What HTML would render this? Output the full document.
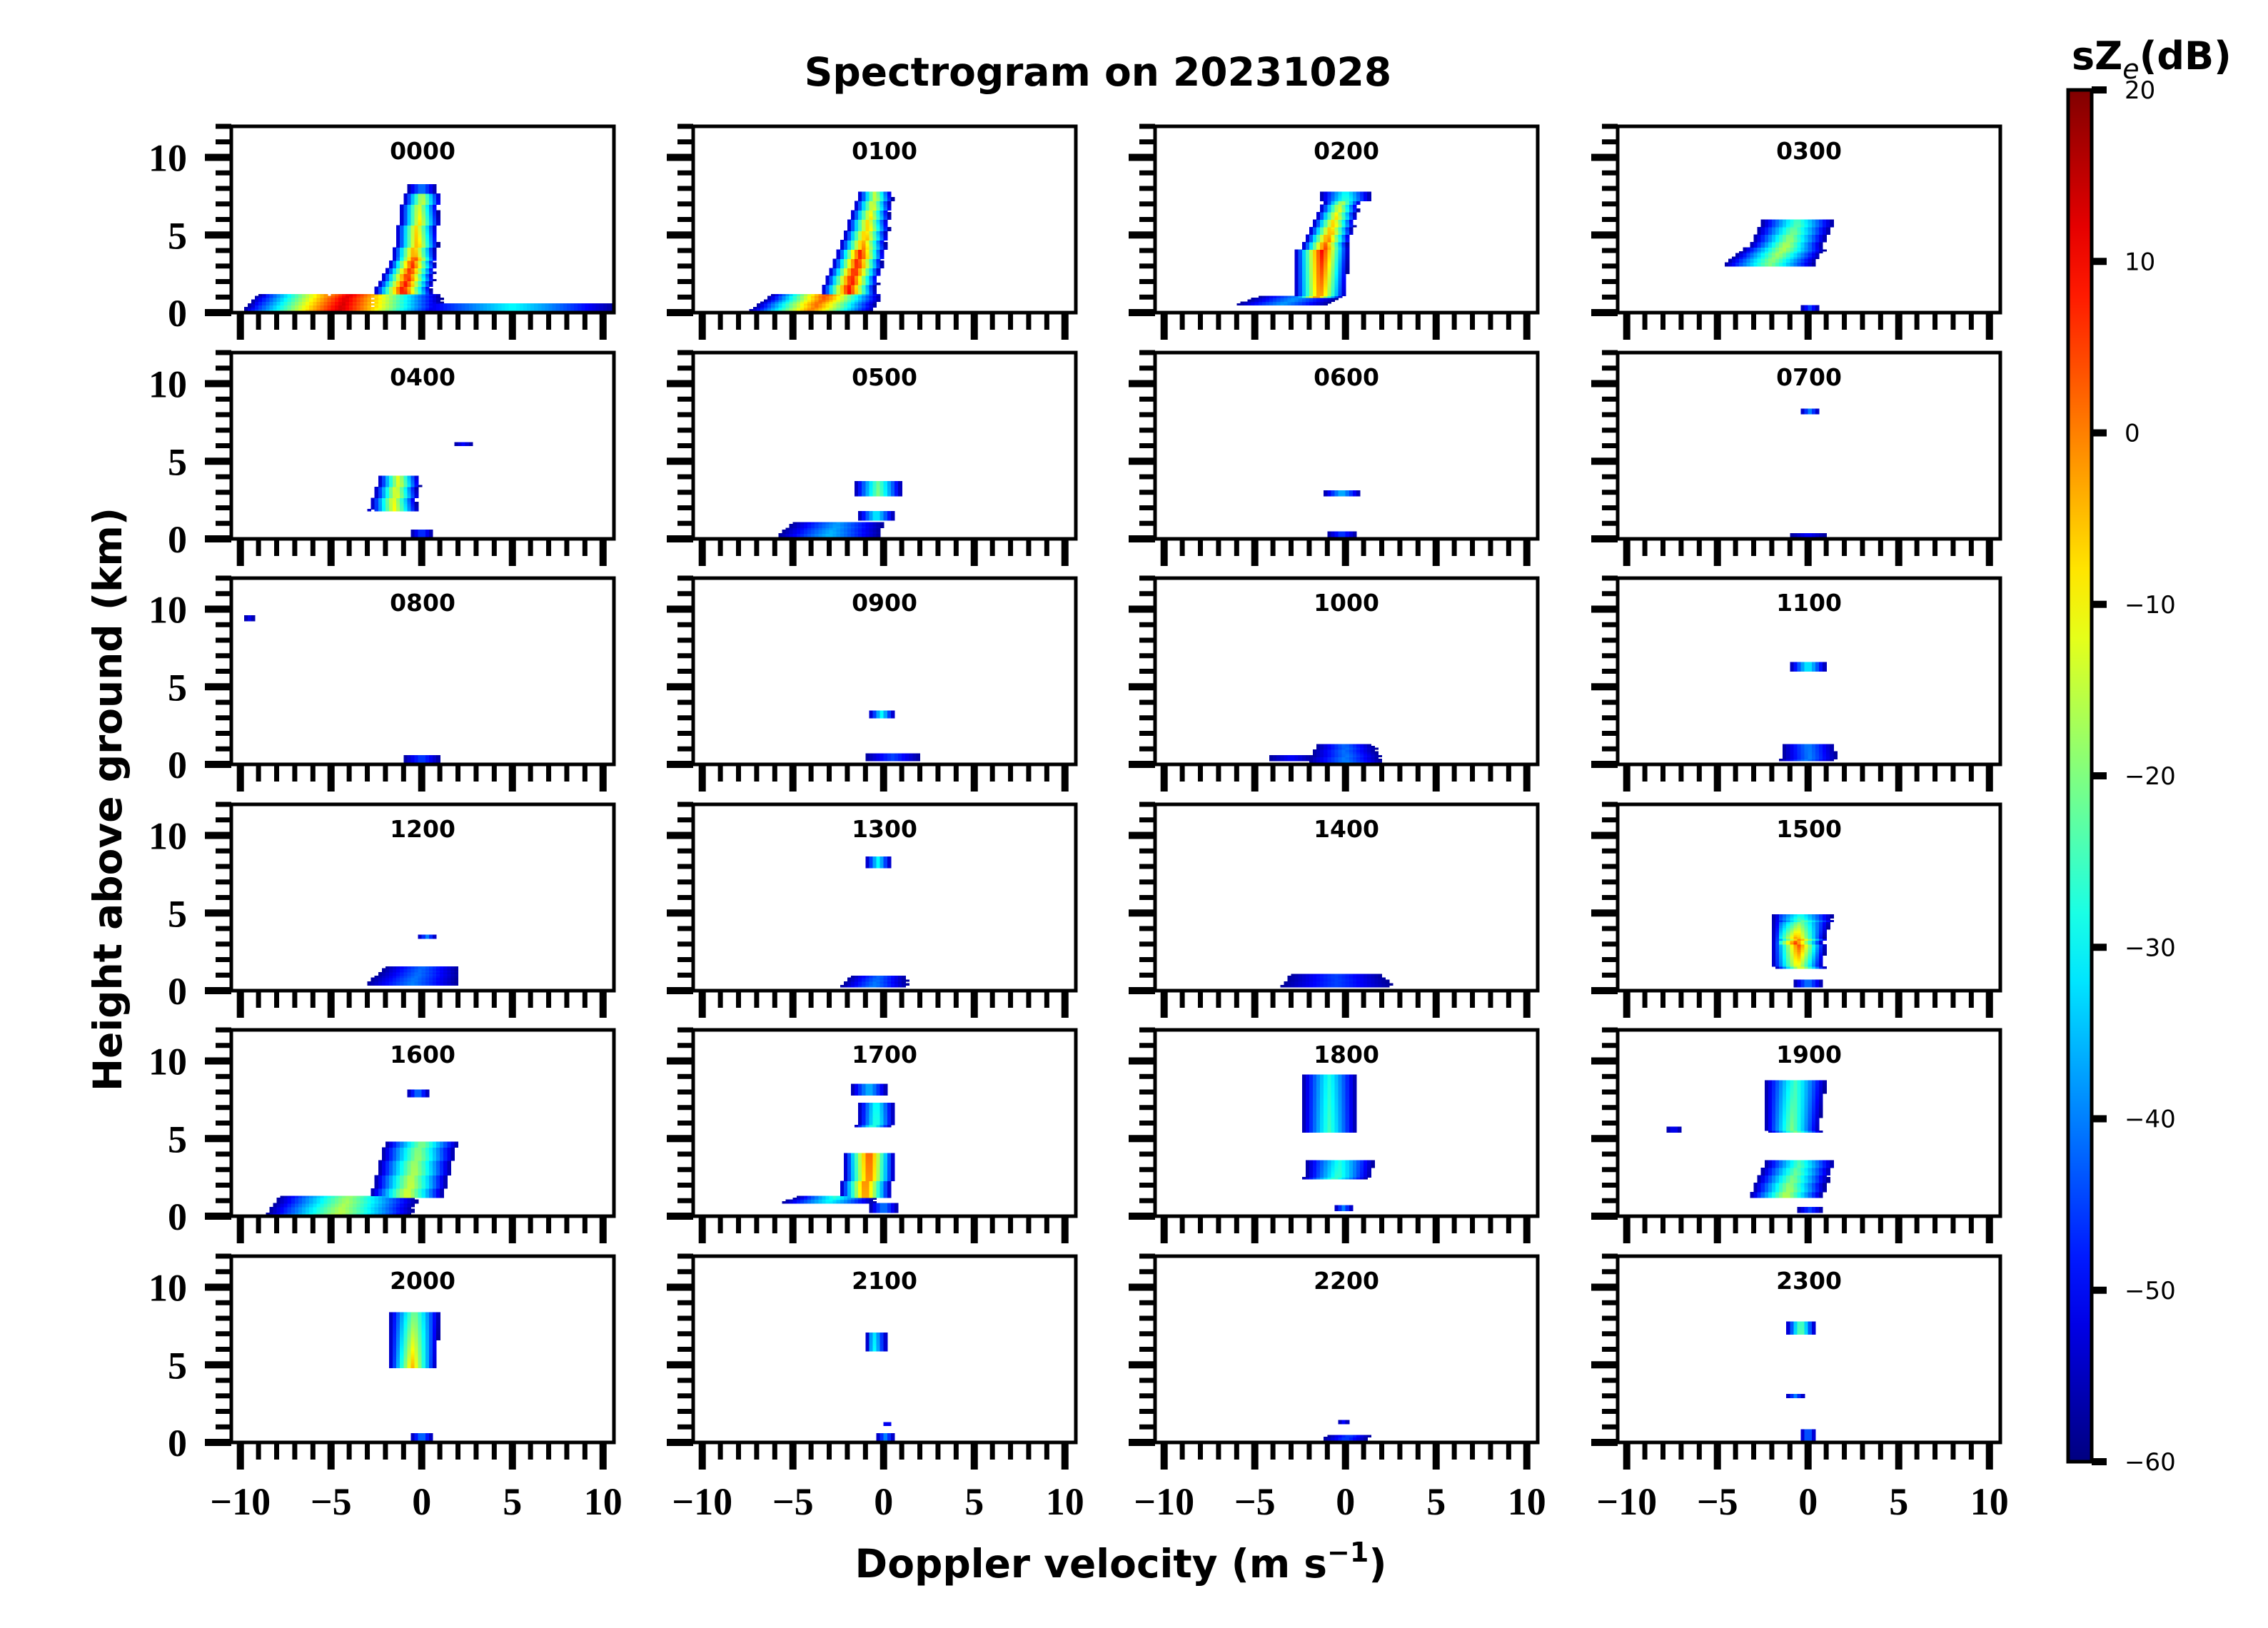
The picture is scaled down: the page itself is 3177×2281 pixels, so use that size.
<!DOCTYPE html>
<html><head><meta charset="utf-8"><style>
html,body{margin:0;padding:0;background:#fff;}
svg{display:block;}
</style></head><body>
<svg id="chart" xmlns="http://www.w3.org/2000/svg" width="3177" height="2281" viewBox="0 0 3177 2281">
<defs>
<linearGradient id="jetgrad" x1="0" y1="1" x2="0" y2="0"></linearGradient>
</defs>
<rect x="0" y="0" width="3177" height="2281" fill="#fff"/>
<text x="1538" y="120" text-anchor="middle" font-family="DejaVu Sans, sans-serif" font-weight="bold" font-size="55">Spectrogram on 20231028</text>
<text transform="translate(170,1120) rotate(-90)" text-anchor="middle" font-family="DejaVu Sans, sans-serif" font-weight="bold" font-size="55">Height above ground (km)</text>
<text x="1570" y="2210" text-anchor="middle" font-family="DejaVu Sans, sans-serif" font-weight="bold" font-size="55">Doppler velocity (m s<tspan dy="-22" font-size="38">−1</tspan><tspan dy="22">)</tspan></text>
<g id="panels"></g>
<g id="colorbar"></g>
</svg>
<script>
// Panel titles (hours)
const panelTitles = ["0000","0100","0200","0300","0400","0500","0600","0700","0800","0900","1000","1100","1200","1300","1400","1500","1600","1700","1800","1900","2000","2100","2200","2300"];
// Echo layers per panel: [hBottom, hTop, vCenterBottom, vCenterTop, halfWidthBottom, halfWidthTop, peakBottom_dB, peakTop_dB]
const layers0000 = [[0,1.2,-4.5,-4,5.5,5,14,12],[0.2,0.55,5,5,5.6,5.6,-30,-30],[1.2,3.5,-1.1,-0.4,1.6,1.2,10,6],[3.5,7.6,-0.4,0,1.2,1.0,0,-15],[7.6,8.2,0,0,0.8,0.8,-40,-40]];
const layers0100 = [[0.1,1.2,-4,-3,3.4,3,0,5],[1.2,4,-2,-1.2,1.5,1.3,10,8],[4,7.8,-1.2,-0.4,1.3,0.9,0,-15]];
const layers0200 = [[0.5,1.0,-3.5,-2.5,2.5,2.3,-38,-38],[1.0,4,-1.5,-1.2,1.4,1.5,0,10],[4,7.2,-1.2,-0.2,1.3,1.0,5,-15],[7.2,7.8,0,0,1.4,1.4,-25,-30]];
const layers0300 = [[3,4.2,-2.2,-1.2,2.5,2.2,-20,-15],[4.2,6,-1.2,-0.5,2,2,-15,-25],[0.2,0.4,0,0,0.5,0.5,-45,-45]];
const layers0400 = [[1.8,4,-1.6,-1.2,1.3,1.1,-10,-12],[0.2,0.5,0,0,0.6,0.6,-45,-45],[6.0,6.2,2.2,2.2,0.5,0.5,-50,-50]];
const layers0500 = [[2.8,3.7,-0.3,-0.3,1.3,1.3,-20,-22],[1.2,1.8,-0.4,-0.3,1.0,1.0,-30,-30],[0.2,1.0,-3,-2.5,2.8,2.5,-35,-38]];
const layers0600 = [[2.8,3.1,-0.2,-0.2,1.0,1.0,-35,-35],[0.2,0.4,-0.2,-0.2,0.8,0.8,-45,-45]];
const layers0700 = [[8.1,8.3,0,0,0.5,0.5,-40,-40],[0.1,0.3,0,0,1,1,-50,-50]];
const layers0800 = [[9.3,9.5,-9.5,-9.5,0.4,0.4,-50,-50],[0.2,0.6,0,0,1,1,-45,-45]];
const layers0900 = [[3.0,3.4,-0.2,-0.2,0.7,0.7,-30,-30],[0.3,0.7,0.5,0.5,1.5,1.5,-45,-45]];
const layers1000 = [[0.2,1.3,0,0,2,1.5,-40,-42],[0.3,0.5,-3,-3,1.2,1.2,-50,-50]];
const layers1100 = [[6.1,6.5,0,0,1,1,-30,-30],[0.3,1.3,0,0,1.5,1.4,-40,-40]];
const layers1200 = [[3.4,3.6,0.2,0.2,0.5,0.5,-40,-40],[0.4,1.5,-0.5,0,2.5,2,-40,-42]];
const layers1300 = [[8,8.6,-0.3,-0.3,0.7,0.7,-30,-30],[0.3,0.9,-0.5,-0.3,1.8,1.5,-40,-42]];
const layers1400 = [[0.3,1.0,-0.5,-0.5,3,2.5,-45,-45]];
const layers1500 = [[1.5,3,-0.5,-0.6,1.4,1.5,-10,5],[3,4.9,-0.6,-0.3,1.5,1.8,5,-30],[0.3,0.7,0,0,0.8,0.8,-40,-40]];
const layers1600 = [[0.2,1.3,-4.5,-4,4,3.8,-15,-18],[1.3,4.8,-0.8,0,2,2,-12,-20],[7.7,8.1,-0.2,-0.2,0.6,0.6,-40,-40]];
const layers1700 = [[0.9,1.3,-3,-2.5,2.5,2,-30,-25],[1.3,4,-1,-0.7,1.4,1.4,0,5],[5.8,7.3,-0.5,-0.4,1,1,-25,-28],[7.9,8.5,-0.8,-0.7,1,1,-35,-35],[0.3,0.8,0,0,0.8,0.8,-40,-40]];
const layers1800 = [[5.5,9,-1,-1,1.5,1.5,-25,-28],[2.5,3.6,-0.5,-0.3,1.8,1.9,-25,-28],[0.4,0.7,-0.2,-0.2,0.5,0.5,-40,-40]];
const layers1900 = [[5.5,8.7,-0.8,-0.8,1.5,1.7,-20,-25],[1.3,3.6,-1.2,-0.4,2,1.9,-15,-25],[5.5,5.7,-7.5,-7.5,0.4,0.4,-50,-50],[0.3,0.5,0,0,0.7,0.7,-45,-45]];
const layers2000 = [[4.9,8.3,-0.5,-0.5,1.3,1.4,-5,-20],[0.2,0.6,0,0,0.6,0.6,-40,-40]];
const layers2100 = [[5.9,7,-0.4,-0.4,0.7,0.7,-30,-32],[0.2,0.5,0,0,0.5,0.5,-40,-40],[1.1,1.3,0.2,0.2,0.2,0.2,-45,-45]];
const layers2200 = [[0.1,0.4,0,0.2,1.2,1.2,-45,-45],[1.2,1.4,-0.2,-0.2,0.3,0.3,-50,-50]];
const layers2300 = [[7,7.8,-0.4,-0.4,0.8,0.8,-20,-22],[2.9,3.1,-0.7,-0.7,0.5,0.5,-40,-40],[0.2,0.8,0,0,0.4,0.4,-40,-40]];
const panelLayers = [layers0000,layers0100,layers0200,layers0300,layers0400,layers0500,layers0600,layers0700,layers0800,layers0900,layers1000,layers1100,layers1200,layers1300,layers1400,layers1500,layers1600,layers1700,layers1800,layers1900,layers2000,layers2100,layers2200,layers2300];
const xTicks = [-10,-5,0,5,10];
const xTickLabels = ["−10","−5","0","5","10"];
const yTicks = [0,5,10];
const cbTicks = [20,10,0,-10,-20,-30,-40,-50,-60];
const cbTickLabels = ["20","10","0","−10","−20","−30","−40","−50","−60"];

const NS = "http://www.w3.org/2000/svg";
const PW = 536, PH = 261;
const colX = [324, 971, 1618, 2266];
const rowY = [177, 494, 810, 1127, 1443, 1760];
const XMIN = -10.5, XMAX = 10.6, YMIN = 0, YMAX = 12;
const VMIN = -60, VMAX = 20;

function mk(tag, attrs, parent){ const e=document.createElementNS(NS,tag); for(const k in attrs) e.setAttribute(k,attrs[k]); parent.appendChild(e); return e; }
function clamp(v){ return Math.max(0,Math.min(1,v)); }
function jet(t){
  const r=clamp(1.5-Math.abs(4*t-3)), g=clamp(1.5-Math.abs(4*t-2)), b=clamp(1.5-Math.abs(4*t-1));
  return "rgb("+Math.round(r*255)+","+Math.round(g*255)+","+Math.round(b*255)+")";
}
function colorFor(db){ return jet((db-VMIN)/(VMAX-VMIN)); }

const panelsG = document.getElementById("panels");
panelTitles.forEach((title, i) => {
  const col = i % 4, row = Math.floor(i / 4);
  const x0 = colX[col], y0 = rowY[row];
  const sx = v => x0 + (v - XMIN) / (XMAX - XMIN) * PW;
  const sy = h => y0 + PH - (h - YMIN) / (YMAX - YMIN) * PH;
  const g = mk("g", {}, panelsG);
  
  
  const cells = mk("g", {"shape-rendering":"crispEdges"}, g);
  
  
  const dv = 0.2, dh = 0.12;
  const grid = {};
  panelLayers[i].forEach(L => {
    const [h0,h1,vc0,vc1,w0,w1,p0,p1] = L;
    for (let h = Math.floor(h0/dh)*dh; h < h1; h += dh) {
      const f = h1 > h0 ? (h - h0) / (h1 - h0) : 0;
      const vc = vc0 + (vc1-vc0)*f, w = w0 + (w1-w0)*f, pk = p0 + (p1-p0)*f;
      for (let v = Math.max(XMIN, vc - w); v <= Math.min(XMAX - dv, vc + w); v += dv) {
        const d = Math.abs((v + dv/2 - vc) / w);
        const val = pk - (pk + 58) * Math.pow(d, 1.1);
        if (val < -58) continue;
        const key = Math.round(v/dv) + "_" + Math.round(h/dh);
        if (grid[key] === undefined || grid[key].val < val) grid[key] = {v:Math.round(v/dv)*dv, h:Math.round(h/dh)*dh, val};
      }
    }
  });
  Object.values(grid).forEach(c => {
    const r = mk("rect", {x:sx(c.v).toFixed(1), y:sy(c.h+dh).toFixed(1), width:(dv/(XMAX-XMIN)*PW+0.6).toFixed(1), height:(dh/(YMAX-YMIN)*PH+0.6).toFixed(1), fill:colorFor(Math.min(VMAX,c.val))}, cells);
    
    
  });
  const fr = mk("rect", {x:x0, y:y0, width:PW, height:PH, fill:"none", stroke:"#000", "stroke-width":5}, g);
  
  
  const t = mk("text", {x:x0+PW/2, y:y0+46, "text-anchor":"middle", "font-family":"DejaVu Sans, sans-serif", "font-weight":"bold", "font-size":33}, g);
  t.textContent = title;
  
  
  for (let v = -10; v <= 10; v++) {
    const major = v % 5 === 0;
    const tk = mk("line", {x1:sx(v), x2:sx(v), y1:y0+PH, y2:y0+PH+(major?38:24), stroke:"#000", "stroke-width":major?10:7}, g);
    
    
  }
  if (row === 5) {
    xTicks.forEach((v, k) => {
      const lb = mk("text", {x:sx(v), y:y0+PH+101, "text-anchor":"middle", "font-family":"Liberation Serif, serif", "font-weight":"bold", "font-size":54}, g);
      lb.textContent = xTickLabels[k];
      
      
    });
  }
  for (let h = 0; h <= 12; h++) {
    const major = h % 5 === 0;
    const tk = mk("line", {x1:x0, x2:x0-(major?37:22), y1:sy(h), y2:sy(h), stroke:"#000", "stroke-width":major?10:7}, g);
    
    
  }
  if (col === 0) {
    yTicks.forEach(h => {
      const lb = mk("text", {x:262, y:sy(h)+19, "text-anchor":"end", "font-family":"Liberation Serif, serif", "font-weight":"bold", "font-size":54}, g);
      lb.textContent = String(h);
      
      
    });
  }
});

const grad = document.getElementById("jetgrad");
for (let k = 0; k <= 20; k++) {
  mk("stop", {offset:(k/20), "stop-color":jet(k/20)}, grad);
}
const cb = document.getElementById("colorbar");
const CBX = 2897, CBW = 33, CBT = 126, CBB = 2048;
const cbY = d => CBB - (d - VMIN) / (VMAX - VMIN) * (CBB - CBT);
const cbr = mk("rect", {x:CBX, y:CBT, width:CBW, height:CBB-CBT, fill:"url(#jetgrad)", stroke:"#000", "stroke-width":5}, cb);


cbTicks.forEach((d, k) => {
  const tk = mk("line", {x1:CBX+CBW, x2:CBX+CBW+21, y1:cbY(d), y2:cbY(d), stroke:"#000", "stroke-width":10}, cb);
  
  
  const lb = mk("text", {x:2976, y:cbY(d)+12, "font-family":"DejaVu Sans, sans-serif", "font-size":34}, cb);
  lb.textContent = cbTickLabels[k];
  
  
});
const cbt = mk("text", {x:2902, y:97, "font-family":"DejaVu Sans, sans-serif", "font-weight":"bold", "font-size":54}, cb);
cbt.innerHTML = 'sZ<tspan dy="13" font-weight="normal" font-style="italic" font-size="38">e</tspan><tspan dy="-13">(dB)</tspan>';


</script>
</body></html>
